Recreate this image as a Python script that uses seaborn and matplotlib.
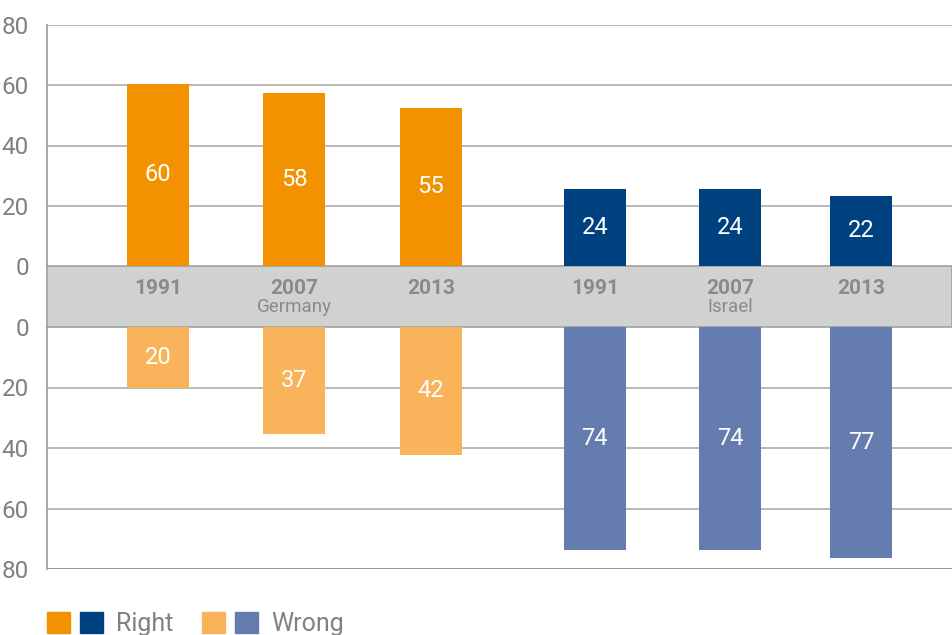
import numpy as np
import pandas as pd
import seaborn as sns
import matplotlib.pyplot as plt
from matplotlib.patches import Patch, Rectangle
from matplotlib.legend_handler import HandlerTuple

# values
years = ["1991", "2007", "2013", "1991", "2007", "2013"]
country = ["Germany", "Germany", "Germany", "Israel", "Israel", "Israel"]
right_pct = [60, 58, 55, 24, 24, 22]
wrong_pct = [20, 37, 42, 74, 74, 77]
# bar lengths as drawn in the picture
right_bar = [60.5, 57.5, 52.5, 25.5, 25.5, 23.3]
wrong_bar = [20, 35.5, 42.3, 73.7, 73.7, 76.3]

right_colors = {"Germany": "#F39200", "Israel": "#00427F"}
wrong_colors = {"Germany": "#F8B35B", "Israel": "#647DAE"}

df = pd.DataFrame({"year": years, "country": country,
                   "right": right_bar, "wrong": wrong_bar})
df["pos"] = [0, 1, 2, 3.2, 4.19, 5.15]

sns.set_style("white")
plt.rcParams["font.family"] = ["Roboto", "DejaVu Sans"]

W, H = 952, 635
fig = plt.figure(figsize=(W / 100, H / 100), dpi=100)
ax_top = fig.add_axes([47 / W, 1 - 266 / H, 905 / W, 241 / H])
ax_bot = fig.add_axes([47 / W, 1 - 569 / H, 905 / W, 242 / H])

grid_c = "#B4B4B4"
spine_c = "#9A9A9A"
tick_c = "#808080"

for ax, col, pal, lab in [(ax_top, "right", right_colors, right_pct),
                          (ax_bot, "wrong", wrong_colors, wrong_pct)]:
    sns.barplot(data=df, x="pos", y=col, hue="country", palette=pal,
                native_scale=True, dodge=False, width=0.473, saturation=1,
                linewidth=0, edgecolor="none", legend=False, ax=ax, zorder=3)
    ax.patch.set_alpha(0)
    ax.set_xlim(-0.813, 5.817)
    ax.set_xticks([])
    ax.set_xlabel("")
    ax.set_ylabel("")
    ax.set_yticks([0, 20, 40, 60, 80])
    ax.tick_params(axis="y", length=0, pad=13, labelsize=17.5, labelcolor=tick_c)
    for s in ["top", "right", "bottom"]:
        ax.spines[s].set_visible(False)
    ax.spines["left"].set_color(spine_c)
    ax.spines["left"].set_linewidth(1.2)
    for v in [20, 40, 60, 80]:
        ax.axhline(v, color=grid_c, lw=1.3, zorder=1)
    for p, h, t in zip(df["pos"], df[col], lab):
        ax.text(p, h / 2, str(t), ha="center", va="center", color="white",
                fontsize=17, zorder=4)

ax_top.set_ylim(0, 80)
ax_bot.set_ylim(80, 0)
ax_bot.axhline(80, color=spine_c, lw=1.3, zorder=2)

# grey band between the two halves
band = Rectangle((47 / W, 1 - 327 / H), 905 / W, 61 / H, transform=fig.transFigure,
                 facecolor="#D0D2D1", edgecolor="#A0A0A0", lw=1.2, zorder=-1)
fig.add_artist(band)

for p, y in zip(df["pos"], df["year"]):
    ax_top.annotate(y, xy=(p, 0), xytext=(0, -22), textcoords="offset pixels",
                    ha="center", va="center", fontsize=15, fontweight="bold",
                    color="#8A8A8A", annotation_clip=False, zorder=6)
for name in ["Germany", "Israel"]:
    p = df.loc[(df["country"] == name) & (df["year"] == "2007"), "pos"].iloc[0]
    ax_top.annotate(name, xy=(p, 0), xytext=(0, -41), textcoords="offset pixels",
                    ha="center", va="center", fontsize=13.5, color="#8A8A8A",
                    annotation_clip=False, zorder=6)

handles = [(Patch(color=right_colors["Germany"]), Patch(color=right_colors["Israel"])),
           (Patch(color=wrong_colors["Germany"]), Patch(color=wrong_colors["Israel"]))]
fig.legend(handles, ["Right", "Wrong"], loc="upper left",
           bbox_to_anchor=(47 / W, 1 - 612 / H), ncol=2, frameon=False,
           fontsize=18, labelcolor=tick_c, borderpad=0, borderaxespad=0,
           handlelength=2.24, handleheight=0.92, handletextpad=0.5,
           columnspacing=1.18, handler_map={tuple: HandlerTuple(ndivide=None, pad=0.4)})

fig.savefig("out.png", dpi=100)
